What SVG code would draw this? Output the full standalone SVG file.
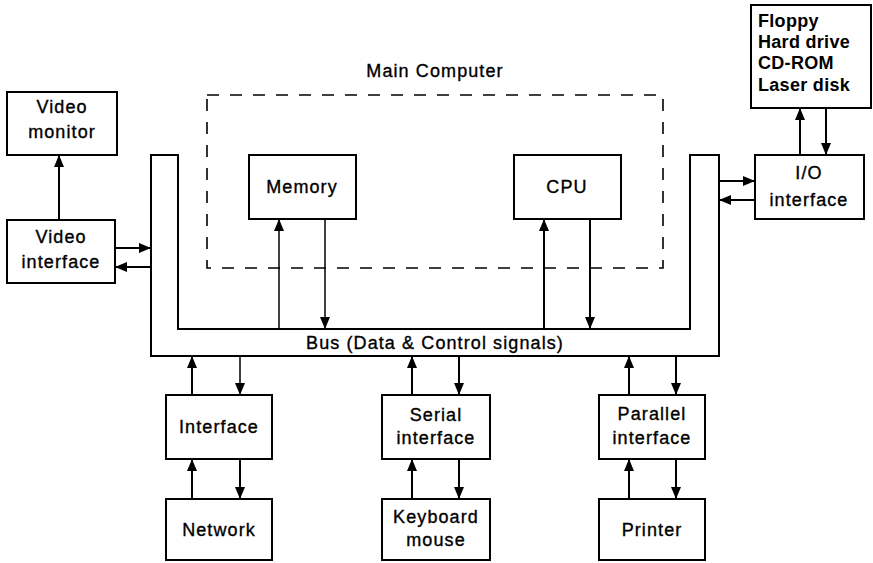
<svg xmlns="http://www.w3.org/2000/svg" width="873" height="563" viewBox="0 0 873 563">
<style>
  .box { fill: #fff; stroke: #000; stroke-width: 2; }
  .t { font-family: "Liberation Sans", Arial, sans-serif; font-size: 18px; letter-spacing: 1.1px; fill: #000; stroke: #000; stroke-width: 0.35; text-anchor: middle; }
  .tb { font-family: "Liberation Sans", Arial, sans-serif; font-size: 18px; font-weight: bold; letter-spacing: 0.3px; fill: #000; }
  .c { fill: none; stroke: #000; stroke-width: 2; marker-end: url(#ah); }
  .ct { fill: none; stroke: #000; stroke-width: 1.5; marker-end: url(#ah); }
  .ln { fill: none; stroke: #000; stroke-width: 2; }
</style>
<defs>
  <marker id="ah" markerUnits="userSpaceOnUse" markerWidth="12" markerHeight="12" viewBox="0 0 12 10" refX="12" refY="5" orient="auto">
    <path d="M0,0 L12,5 L0,10 Z" fill="#000"/>
  </marker>
</defs>
<rect width="873" height="563" fill="#fff"/>

<g id="main-computer">
  <rect x="207" y="95" width="456" height="173" fill="none" stroke="#000" stroke-width="1.6" stroke-dasharray="12 11"/>
  <text class="t" x="435" y="77">Main Computer</text>
</g>

<g id="bus">
  <path class="ln" d="M151,155 L151,356 L719,356 L719,155 L690,155 L690,329 L178,329 L178,155 Z" fill="#fff"/>
  <text class="t" x="435" y="349">Bus (Data &amp; Control signals)</text>
</g>

<g id="video-monitor">
  <rect class="box" x="7" y="92" width="110" height="63"/>
  <text class="t" x="62" y="113">Video</text>
  <text class="t" x="62" y="138">monitor</text>
</g>

<g id="video-interface">
  <rect class="box" x="7" y="220" width="108" height="63"/>
  <text class="t" x="61" y="243">Video</text>
  <text class="t" x="61" y="268">interface</text>
</g>

<g id="memory">
  <rect class="box" x="249" y="155" width="107" height="64"/>
  <text class="t" x="302" y="193">Memory</text>
</g>

<g id="cpu">
  <rect class="box" x="514" y="155" width="107" height="64"/>
  <text class="t" x="567" y="193">CPU</text>
</g>

<g id="storage">
  <rect class="box" x="751" y="5" width="120" height="103"/>
  <text class="tb" x="758" y="27">Floppy</text>
  <text class="tb" x="758" y="48">Hard drive</text>
  <text class="tb" x="758" y="69">CD-ROM</text>
  <text class="tb" x="758" y="91">Laser disk</text>
</g>

<g id="io-interface">
  <rect class="box" x="755" y="155" width="109" height="64"/>
  <text class="t" x="809" y="179">I/O</text>
  <text class="t" x="809" y="206">interface</text>
</g>

<g id="interface">
  <rect class="box" x="166" y="395" width="106" height="64"/>
  <text class="t" x="219" y="433">Interface</text>
</g>

<g id="network">
  <rect class="box" x="166" y="499" width="106" height="61"/>
  <text class="t" x="219" y="536">Network</text>
</g>

<g id="serial-interface">
  <rect class="box" x="382" y="395" width="108" height="64"/>
  <text class="t" x="436" y="421">Serial</text>
  <text class="t" x="436" y="444">interface</text>
</g>

<g id="keyboard-mouse">
  <rect class="box" x="382" y="499" width="108" height="61"/>
  <text class="t" x="436" y="523">Keyboard</text>
  <text class="t" x="436" y="546">mouse</text>
</g>

<g id="parallel-interface">
  <rect class="box" x="599" y="395" width="106" height="64"/>
  <text class="t" x="652" y="420">Parallel</text>
  <text class="t" x="652" y="444">interface</text>
</g>

<g id="printer">
  <rect class="box" x="599" y="499" width="106" height="61"/>
  <text class="t" x="652" y="536">Printer</text>
</g>

<g id="connectors">
  <line class="c" x1="59" y1="220" x2="59" y2="155"/>
  <line class="c" x1="115" y1="248" x2="151" y2="248"/>
  <line class="c" x1="151" y1="267" x2="115" y2="267"/>

  <line class="ct" x1="279" y1="329" x2="279" y2="219"/>
  <line class="ct" x1="325" y1="219" x2="325" y2="329"/>
  <line class="c" x1="544" y1="329" x2="544" y2="219"/>
  <line class="c" x1="590" y1="219" x2="590" y2="329"/>

  <line class="c" x1="719" y1="181" x2="755" y2="181"/>
  <line class="c" x1="755" y1="200" x2="719" y2="200"/>
  <line class="c" x1="800" y1="155" x2="800" y2="108"/>
  <line class="c" x1="826" y1="108" x2="826" y2="155"/>

  <line class="c" x1="192" y1="395" x2="192" y2="356"/>
  <line class="ct" x1="240" y1="356" x2="240" y2="395"/>
  <line class="c" x1="192" y1="499" x2="192" y2="459"/>
  <line class="c" x1="240" y1="459" x2="240" y2="499"/>

  <line class="c" x1="412" y1="395" x2="412" y2="356"/>
  <line class="c" x1="459" y1="356" x2="459" y2="395"/>
  <line class="c" x1="412" y1="499" x2="412" y2="459"/>
  <line class="c" x1="459" y1="459" x2="459" y2="499"/>

  <line class="c" x1="629" y1="395" x2="629" y2="356"/>
  <line class="c" x1="676" y1="356" x2="676" y2="395"/>
  <line class="c" x1="629" y1="499" x2="629" y2="459"/>
  <line class="c" x1="676" y1="459" x2="676" y2="499"/>
</g>
</svg>
